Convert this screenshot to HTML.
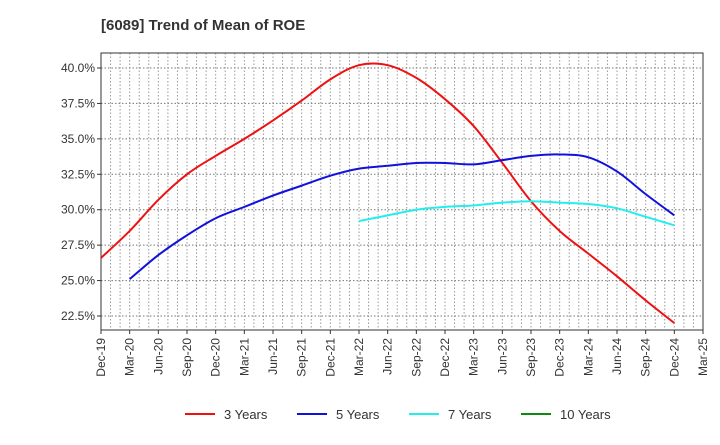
<!DOCTYPE html>
<html><head><meta charset="utf-8"><style>
body{margin:0;background:#fff;font-family:"Liberation Sans",sans-serif}
svg text{font-family:"Liberation Sans",sans-serif}
</style></head><body>
<svg id="c" width="720" height="440" xmlns="http://www.w3.org/2000/svg">
<text x="101" y="30" font-size="15" font-weight="bold" fill="#333">[6089]  Trend of Mean of ROE</text>
<g id="grid"></g><g id="axes"></g><g id="series"></g><g id="legend"></g>
</svg>
<script>
const xLabels=["Dec-19","Mar-20","Jun-20","Sep-20","Dec-20","Mar-21","Jun-21","Sep-21","Dec-21","Mar-22","Jun-22","Sep-22","Dec-22","Mar-23","Jun-23","Sep-23","Dec-23","Mar-24","Jun-24","Sep-24","Dec-24","Mar-25"];
const yTicks=[22.5,25,27.5,30,32.5,35,37.5,40];
const s3=[26.6,28.5,30.7,32.5,33.8,35.0,36.3,37.7,39.2,40.2,40.2,39.3,37.8,35.9,33.3,30.6,28.5,26.9,25.3,23.6,22.0];
const s5=[25.1,26.8,28.2,29.4,30.2,31.0,31.7,32.4,32.9,33.1,33.3,33.3,33.2,33.5,33.8,33.9,33.7,32.7,31.1,29.6];
const s7=[29.2,29.6,30.0,30.2,30.3,30.5,30.6,30.5,30.4,30.1,29.5,28.9];
const s10=[];
const names=["3 Years","5 Years","7 Years","10 Years"];
const colors=["#ee1111","#1111dd","#22eeee","#118811"];
const X0=101,X1=703,Y0=53,Y1=330;
const qx=i=>X0+i*(X1-X0)/(xLabels.length-1);
const yv=v=>68+(40-v)*(316-68)/17.5;
const NS="http://www.w3.org/2000/svg";
function mk(t,a,p){const e=document.createElementNS(NS,t);for(const k in a)e.setAttribute(k,a[k]);p.appendChild(e);return e;}
const g=document.getElementById('grid'),ax=document.getElementById('axes'),se=document.getElementById('series'),lg=document.getElementById('legend');
for(let m=1;m<(xLabels.length-1)*3;m++){const x=X0+m*(X1-X0)/((xLabels.length-1)*3);
 const l=mk('line',{x1:x,x2:x,y1:Y0,y2:Y1,stroke:'#999','stroke-dasharray':'1.5,2','stroke-width':1},g);
 
 }
yTicks.forEach(v=>{const y=yv(v);
 const l=mk('line',{x1:X0,x2:X1,y1:y,y2:y,stroke:'#777','stroke-dasharray':'1.5,2','stroke-width':1},g);
 
 
 mk('line',{x1:X0-4,x2:X0,y1:y,y2:y,stroke:'#333'},ax);
 const t=mk('text',{x:X0-6,y:y+4,'text-anchor':'end','font-size':12,fill:'#333'},ax);t.textContent=v.toFixed(1)+'%';
 
 });
const fr=mk('rect',{x:X0,y:Y0,width:X1-X0,height:Y1-Y0,fill:'none',stroke:'#333','stroke-width':1},ax);


xLabels.forEach((s,i)=>{const x=qx(i);mk('line',{x1:x,x2:x,y1:Y1,y2:Y1+4,stroke:'#333'},ax);
 const t=mk('text',{x:x+4,y:Y1+8,'text-anchor':'end','font-size':12,fill:'#333',transform:`rotate(-90 ${x+4} ${Y1+8})`},ax);t.textContent=s;
 
 });
function path(vals,off){const p=vals.map((v,i)=>[qx(i+off),yv(v)]);if(p.length<2)return '';
 let d=`M${p[0][0]},${p[0][1]}`;
 for(let i=0;i<p.length-1;i++){const a=p[i-1]||p[i],b=p[i],c=p[i+1],e=p[i+2]||c;
  d+=` C${b[0]+(c[0]-a[0])/6},${b[1]+(c[1]-a[1])/6} ${c[0]-(e[0]-b[0])/6},${c[1]-(e[1]-b[1])/6} ${c[0]},${c[1]}`;}
 return d;}
[[s3,0],[s5,1],[s7,9],[s10,0]].forEach(([v,o],k)=>{const d=path(v,o);if(!d)return;
 const l=mk('path',{d:d,fill:'none',stroke:colors[k],'stroke-width':2},se);
 
 });
names.forEach((n,k)=>{const x=185+k*112;
 const gi=mk('g',{},lg);
 
 
 mk('line',{x1:x,x2:x+30,y1:414,y2:414,stroke:colors[k],'stroke-width':2},gi);
 const t=mk('text',{x:x+39,y:419,'font-size':13,fill:'#333'},gi);t.textContent=n;});
</script>
</body></html>
